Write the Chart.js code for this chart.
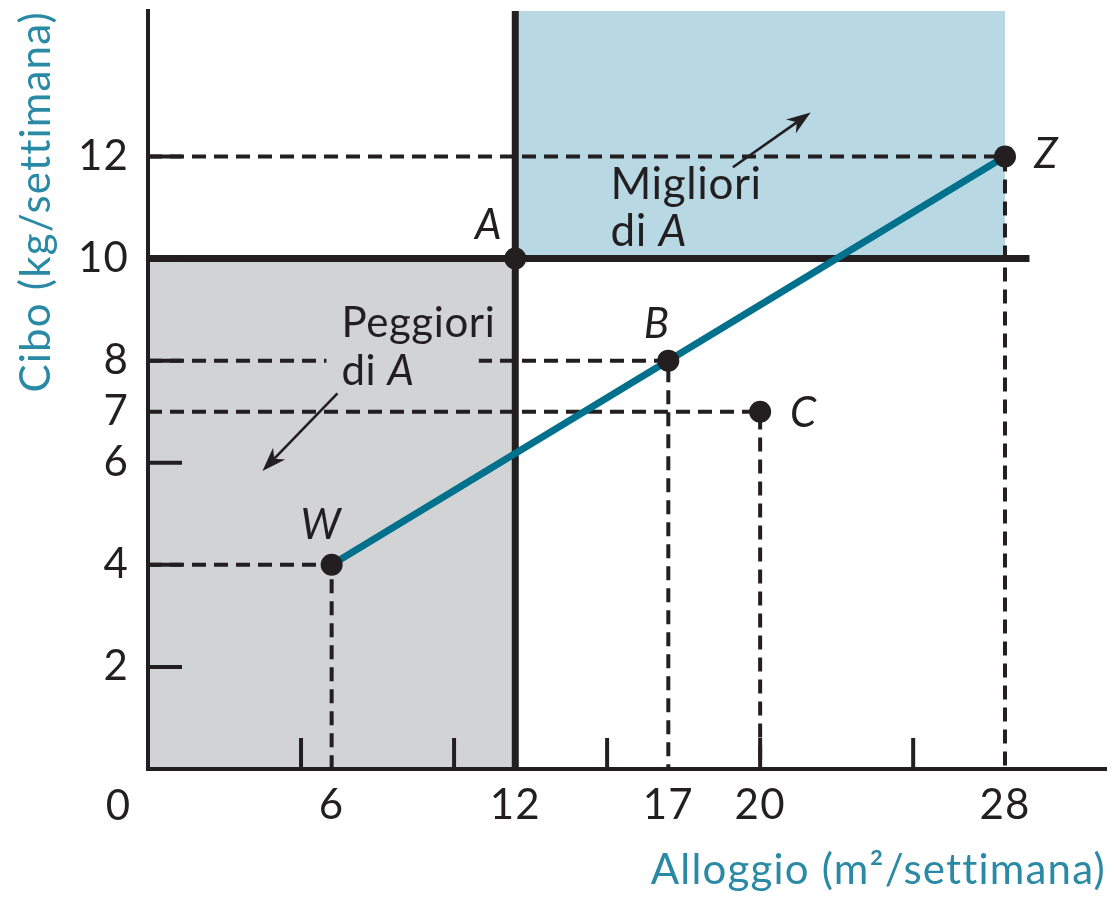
<!DOCTYPE html>
<html><head><meta charset="utf-8">
<script src="https://cdn.jsdelivr.net/npm/chart.js@4.4.1/dist/chart.umd.min.js"></script>
<style>html,body{margin:0;padding:0;background:#fff;overflow:hidden}#wrap{width:1117px;height:901px;position:relative}</style>
</head><body><div id="wrap"><canvas id="c"></canvas></div>
<script>
// ---- data ----
const pointNames = ['W','A','B','C','Z'];
const pointX = [6,12,17,20,28];
const pointY = [4,10,8,7,12];
const guidePoints = ['W','B','C','Z'];
const budgetX = [6,28];
const budgetY = [4,12];
const refX = 12;
const refY = 10;
const refLineEndX = 28.8;
const worseX = [0,12];
const betterX = [12,28];
const xTickValues = [6,12,17,20,28];
const yTickValues = [2,4,6,7,8,10,12];
const xTickMarks = [5,10,15,20,25];
const yTickMarks = [2,4,6,8,10,12];
const xMax = 31.3;
const yMax = 14.85;
const xTitle = 'Alloggio (m²/settimana)';
const yTitle = 'Cibo (kg/settimana)';
const betterLabel = ['Migliori','di ','A'];
const worseLabel = ['Peggiori','di ','A'];

// ---- styles ----
const INK = '#231f20', TEAL = '#00718c', TITLE = '#2a8aa6', GRAY = '#d1d3d4', BLUE = '#b8d8e4';
const FAM = "Lato, 'Open Sans', sans-serif";

const labelOffsets = {W:[-11,-39], A:[-27,-33], B:[-12,-36], C:[43,2], Z:[41,-2]};
const notes = {
  better: {x:15.11, y1:11.16, y2:10.24, size:44, spacing:'0.6px', arrow:[19.11,11.79,21.65,12.86]},
  worse: {x:6.32, y1:8.47, y2:7.53, size:42, spacing:'0.6px', arrow:[6.19,7.36,3.74,5.84], box:[5.83,10.81,8.35,7.65]}
};

function arrow(ctx,x1,y1,x2,y2){
  const a = Math.atan2(y2-y1,x2-x1), L=24, W=8.5, N=17;
  ctx.beginPath(); ctx.moveTo(x1,y1); ctx.lineTo(x2-N*Math.cos(a), y2-N*Math.sin(a));
  ctx.lineWidth=2.6; ctx.strokeStyle=INK; ctx.stroke();
  ctx.beginPath();
  ctx.moveTo(x2,y2);
  ctx.lineTo(x2-L*Math.cos(a)+W*Math.sin(a), y2-L*Math.sin(a)-W*Math.cos(a));
  ctx.lineTo(x2-N*Math.cos(a), y2-N*Math.sin(a));
  ctx.lineTo(x2-L*Math.cos(a)-W*Math.sin(a), y2-L*Math.sin(a)+W*Math.cos(a));
  ctx.closePath(); ctx.fillStyle=INK; ctx.fill();
}
function note(ctx,x,y,n,lines){
  const px=x.getPixelForValue(n.x);
  ctx.letterSpacing=n.spacing;
  ctx.fillStyle=INK; ctx.textAlign='left'; ctx.textBaseline='alphabetic';
  ctx.font=n.size+'px '+FAM;
  ctx.fillText(lines[0],px,y.getPixelForValue(n.y1));
  ctx.fillText(lines[1],px,y.getPixelForValue(n.y2));
  const w=ctx.measureText(lines[1]).width;
  ctx.font='italic '+n.size+'px '+FAM;
  ctx.fillText(lines[2],px+w,y.getPixelForValue(n.y2));
}

const decor = {
  id:'decor',
  beforeDraw(chart){ chart.ctx.letterSpacing='1.2px'; },
  afterDatasetsDraw(chart){
    const {ctx, scales:{x,y}, chartArea:ca} = chart;
    ctx.save();
    // inside tick marks
    ctx.strokeStyle=INK; ctx.lineWidth=4;
    yTickMarks.forEach(v=>{const p=y.getPixelForValue(v);ctx.beginPath();ctx.moveTo(ca.left,p);ctx.lineTo(ca.left+34,p);ctx.stroke();});
    xTickMarks.forEach(v=>{const p=x.getPixelForValue(v);ctx.beginPath();ctx.moveTo(p,ca.bottom);ctx.lineTo(p,ca.bottom-31);ctx.stroke();});
    // label box covering dashed line
    const b=notes.worse.box;
    ctx.fillStyle=GRAY;
    ctx.fillRect(x.getPixelForValue(b[0]), y.getPixelForValue(b[2]), x.getPixelForValue(b[1])-x.getPixelForValue(b[0]), y.getPixelForValue(b[3])-y.getPixelForValue(b[2]));
    note(ctx,x,y,notes.better,betterLabel);
    note(ctx,x,y,notes.worse,worseLabel);
    [notes.better.arrow, notes.worse.arrow].forEach(a=>arrow(ctx,x.getPixelForValue(a[0]),y.getPixelForValue(a[1]),x.getPixelForValue(a[2]),y.getPixelForValue(a[3])));
    // point names
    ctx.letterSpacing='0px';
    ctx.font='italic 42px '+FAM; ctx.fillStyle=INK; ctx.textAlign='center'; ctx.textBaseline='middle';
    pointNames.forEach((n,i)=>{const o=labelOffsets[n];ctx.fillText(n,x.getPixelForValue(pointX[i])+o[0],y.getPixelForValue(pointY[i])+o[1]);});
    // origin label
    ctx.font='42px '+FAM; ctx.textBaseline='middle';
    ctx.fillText('0', ca.left-30, y.getPixelForValue(0)+37);
    ctx.restore();
  }
};

const guide = n => { const i=pointNames.indexOf(n); return [{x:0,y:pointY[i]},{x:pointX[i],y:pointY[i]},{x:pointX[i],y:0}]; };
const lineDs = (data, extra) => Object.assign({data, pointRadius:0, fill:false, tension:0, borderCapStyle:'butt'}, extra);

new Chart(document.getElementById('c'), {
  type:'line',
  data:{datasets:[
    lineDs(worseX.map(v=>({x:v,y:refY})), {fill:'start', backgroundColor:GRAY, borderWidth:0, order:10}),
    lineDs(betterX.map(v=>({x:v,y:refY})), {fill:'end', backgroundColor:BLUE, borderWidth:0, order:10}),
    ...guidePoints.map(n=>lineDs(guide(n), {borderColor:INK, borderWidth:4, borderDash:[14,8], order:8})),
    lineDs([{x:0,y:refY},{x:refLineEndX,y:refY}], {borderColor:INK, borderWidth:7, order:6}),
    lineDs([{x:refX,y:0},{x:refX,y:yMax}], {borderColor:INK, borderWidth:7, order:6}),
    lineDs(budgetX.map((v,i)=>({x:v,y:budgetY[i]})), {borderColor:TEAL, borderWidth:7, order:4}),
    {data:pointX.map((v,i)=>({x:v,y:pointY[i]})), showLine:false, pointRadius:11, pointBackgroundColor:INK, pointBorderWidth:0, order:1}
  ]},
  plugins:[decor],
  options:{
    responsive:true, maintainAspectRatio:false, animation:false, events:[],
    layout:{padding:{top:8,right:4,left:0,bottom:0}},
    plugins:{legend:{display:false}, tooltip:{enabled:false}},
    scales:{
      x:{type:'linear', min:0, max:xMax,
        afterBuildTicks:s=>{s.ticks=xTickValues.map(v=>({value:v}));},
        afterFit:s=>{s.height=132;s.paddingLeft=0;s.paddingRight=0;},
        grid:{display:false, drawTicks:false},
        border:{display:true, color:INK, width:4, z:1},
        ticks:{autoSkip:false, maxRotation:0, padding:11, color:INK, font:{family:FAM, size:42}},
        title:{display:true, text:xTitle, align:'end', color:TITLE, font:{family:FAM, size:42}, padding:{top:0,bottom:5}}
      },
      y:{type:'linear', min:0, max:yMax,
        afterBuildTicks:s=>{s.ticks=yTickValues.map(v=>({value:v}));},
        afterFit:s=>{s.width=148;s.paddingTop=0;s.paddingBottom=0;},
        grid:{display:false, drawTicks:false},
        border:{display:true, color:INK, width:4, z:1},
        ticks:{autoSkip:false, padding:19, color:INK, font:{family:FAM, size:42}},
        title:{display:true, text:yTitle, align:'end', color:TITLE, font:{family:FAM, size:42}, padding:{top:11,bottom:0}}
      }
    }
  }
});
</script></body></html>
